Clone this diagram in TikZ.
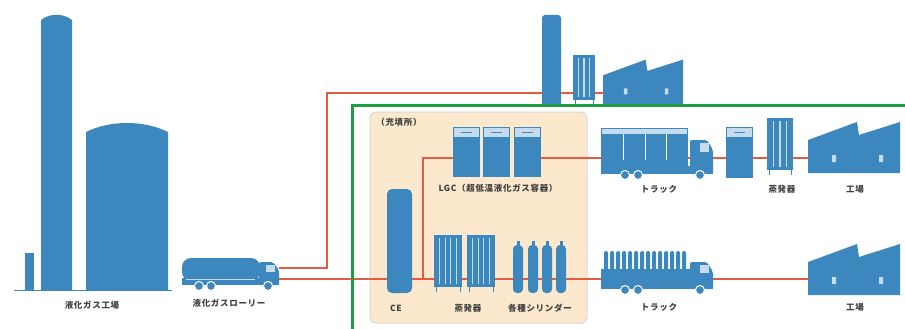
\documentclass[tikz,border=0pt]{standalone}
\usepackage{fontspec}
\newfontfamily\jp[LetterSpace=8]{Noto Sans CJK JP}
\usepackage{tikz}
\usetikzlibrary{calc}
\definecolor{tankblue}{HTML}{3D87BF}
\definecolor{pale}{HTML}{C4DCEE}
\definecolor{pipe}{HTML}{E25C42}
\definecolor{frame}{HTML}{1E9E40}
\definecolor{yard}{HTML}{FCE9CD}
\definecolor{ink}{HTML}{404040}
\tikzset{
  pipe/.style={draw=pipe, line width=1.8pt},
  body/.style={fill=tankblue},
  wheel/.style={fill=tankblue, draw=white, line width=1pt},
  lab/.style={text=ink, font=\jp\bfseries\fontsize{8.5}{10}\selectfont, inner sep=0pt},
  % saw-tooth factory hall, origin at bottom left
  factory/.pic={
    \fill[tankblue] (0,0) -- (0,-33) -- (49,-51) -- (51,-38) -- (92,-51) -- (92,0) -- cycle;
    \fill[pale] (24,-11) rectangle (28,-18) (71,-11) rectangle (75,-18);
  },
  % evaporator: width, height, number of tubes
  pics/evap/.style n args={3}{code={
    \fill[tankblue] (0,0) rectangle (#1,-#2);
    \foreach \k in {1,...,#3}
      \draw[pale, line width=1.2pt] ({#1*\k/(#3+1)},-3) -- ({#1*\k/(#3+1)},-#2+3);
    \draw[tankblue, line width=1pt] (2,0) -- (2,5) (#1-2,0) -- (#1-2,5);
  }},
  % LGC container: width, height
  pics/lgc/.style n args={2}{code={
    \fill[tankblue] (0,0) rectangle (#1,-#2);
    \fill[pale] (1,-#2+1) rectangle (#1-1,-#2+10);
    \draw[tankblue, line width=0.6pt] ({#1*0.3},-#2+5) -- ({#1*0.7},-#2+5);
  }},
  cylinder/.pic={
    \fill[tankblue, rounded corners=4pt] (-5,0) rectangle (5,-48);
    \fill[tankblue] (-1.5,-46) rectangle (1.5,-52);
  }
}

\begin{document}
\begin{tikzpicture}[x=1pt, y=-1pt]
  \fill[white] (0,0) rectangle (905,329);
  \useasboundingbox (0,0) rectangle (905,329);

  % filling station yard
  \fill[yard, draw=black!15, line width=1pt, rounded corners=6pt] (370,112) rectangle (587,323);

  % pipe ends
  \coordinate (lorry hi) at (279,268);
  \coordinate (lorry lo) at (279,279);
  \coordinate (riser)    at (327,93);   % up to the works at the top
  \coordinate (topfac)   at (603,93);
  \coordinate (tee)      at (423,279);  % branch to the LGC line
  \coordinate (lgc in)   at (453,158);
  \coordinate (lgc out)  at (541,158);
  \coordinate (fac1 in)  at (808,158);
  \coordinate (fac2 in)  at (808,279);

  \draw[pipe] (lorry hi) -| (riser) -- (topfac);
  \draw[pipe] (lorry lo) -- (fac2 in);
  \draw[pipe] (tee) |- (lgc in);
  \draw[pipe] (lgc out) -- (fac1 in);

  % liquefied gas plant
  \draw[tankblue, line width=1pt] (14,290) -- (172,290);
  \fill[body] (25,253) rectangle (34,290);
  \fill[body] (41,290) -- (41,20) .. controls (50,13) and (63,13) .. (72,20) -- (72,290) -- cycle;
  \fill[body] (86,290) -- (86,132) .. controls (110,120) and (144,120) .. (168,132) -- (168,290) -- cycle;

  % tank lorry
  \fill[body, rounded corners=9pt] (182,258) rectangle (260,281);
  \fill[body] (182,278) rectangle (279,285);
  \fill[body, rounded corners=2pt] (259,285) -- (259,262) -- (273,262) -- (279,270) -- (279,285) -- cycle;
  \fill[pale] (266,265) rectangle (275,272);
  \draw[pale, line width=0.8pt] (186,279) -- (255,279);
  \foreach \x in {199,211,268}
    \filldraw[wheel] (\x,286) circle[radius=4.5];

  % works at the top
  \fill[body, rounded corners=3pt] (542,104) -- (542,15) -- (561,15) -- (561,104);
  \pic at (573,100) {evap={22}{45}{3}};
  \pic[scale=.87] at (603,104) {factory};

  % filling station equipment
  \fill[body, rounded corners=5pt] (387,293) rectangle (412,189);
  \foreach \x in {453,483,514}
    \pic at (\x,177) {lgc={27}{50}};
  \pic at (434,287) {evap={28}{52}{4}};
  \pic at (467,287) {evap={28}{52}{4}};
  \foreach \x in {518,533,547,561}
    \pic at (\x,293) {cylinder};

  % truck with LGC containers
  \fill[body] (601,128) rectangle (688,168);
  \fill[pale] (602,129) rectangle (687,134);
  \foreach \x in {623,645,666}
    \draw[white, line width=1pt] (\x,134) -- (\x,160);
  \fill[body] (601,166) rectangle (713,174);
  \fill[body, rounded corners=2pt] (690,174) -- (690,140) -- (707,140) -- (713,150) -- (713,174) -- cycle;
  \fill[pale] (700,143) rectangle (709,152);
  \foreach \x in {625,638,700}
    \filldraw[wheel] (\x,175) circle[radius=4.5];

  \pic at (726,178) {lgc={27}{51}};
  \pic at (767,170) {evap={26}{52}{3}};
  \pic at (808,173) {factory};

  % truck with cylinders
  \foreach \k in {0,...,13}
    \fill[body, rounded corners=1.5pt] ({604+6*\k},251) rectangle +(4,20);
  \fill[body] (601,269) rectangle (690,285);
  \fill[body] (601,283) rectangle (713,289);
  \fill[body, rounded corners=2pt] (690,289) -- (690,262) -- (707,262) -- (713,272) -- (713,289) -- cycle;
  \fill[pale] (700,265) rectangle (709,273);
  \foreach \x in {625,638,700}
    \filldraw[wheel] (\x,290) circle[radius=4.5];

  \pic at (808,295) {factory};

  % customer area
  \draw[frame, line width=3pt] (352,335) -- (352,105) -- (910,105);

  % labels
  \node[lab] (plant)    at (92,305)  {液化ガス工場};
  \node[lab] (lorry)    at (229,303) {液化ガスローリー};
  \node[lab] (station)  at (399,122) {（充填所）};
  \node[lab] (lgcname)  at (498,188) {LGC（超低温液化ガス容器）};
  \node[lab] (ce)       at (396,308) {CE};
  \node[lab] (evapA)    at (468,308) {蒸発器};
  \node[lab] (cyls)     at (540,308) {各種シリンダー};
  \node[lab] (truckA)   at (659,189) {トラック};
  \node[lab] (evapB)    at (782,189) {蒸発器};
  \node[lab] (facA)     at (855,189) {工場};
  \node[lab] (truckB)   at (659,307) {トラック};
  \node[lab] (facB)     at (855,307) {工場};
\end{tikzpicture}
\end{document}
